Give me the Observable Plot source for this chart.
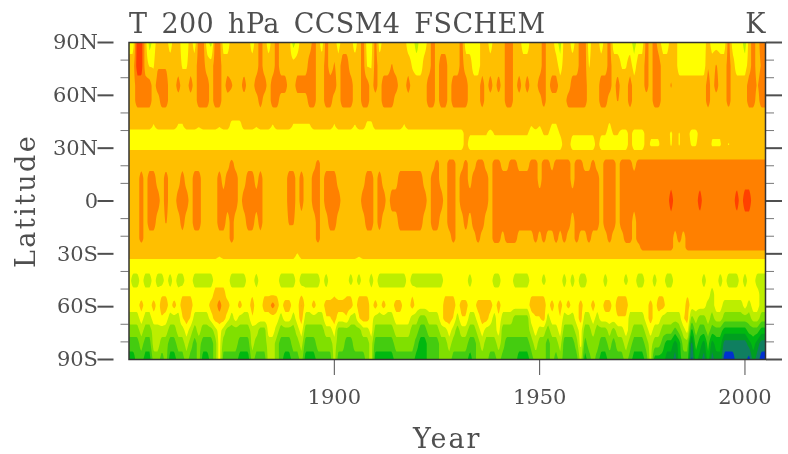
<!DOCTYPE html>
<html><head><meta charset="utf-8">
<script src="https://cdn.jsdelivr.net/npm/d3@7"></script>
<script src="https://cdn.jsdelivr.net/npm/@observablehq/plot@0.6"></script>
<style>html,body{margin:0;padding:0;background:#fff}svg{display:block;filter:blur(.55px)}</style>
</head><body><div id="chart"></div>
<script>
const title = "T 200 hPa CCSM4 FSCHEM";
const units = "K";
const yearTicks = [1900, 1950, 2000];
const latMajor = [90, 60, 30, 0, -30, -60, -90];
const latLabels = ["90S", "60S", "30S", "0", "30N", "60N", "90N"];
const latMinor = [80, 70, 50, 40, 20, 10, -10, -20, -40, -50, -70, -80];
const palette = ["#0030d0","#0f7f60","#009f20","#00b810","#44cc10","#80e000","#bcee00","#ffff00","#ffbf00","#ff8000","#ff4000"];
const levels = [-0.5,0.5,1.5,2.5,3.5,4.5,5.5,6.5,7.5,8.5,9.5];
// Field, per latitude: pairs of (first year, colour level) holding until the next pair
const t90N=[1850,7,1852,10,1854,8,1855,6,1856,7,1857,8,1860,7,1861,8,1863,7,1865,8,1866,7,1867,9,1869,7,1870,6,1871,9,1873,7,1875,8,1880,7,1881,8,1882,9,1883,8,1884,7,1885,8,1886,9,1887,8,1890,6,1891,7,1892,8,1895,9,1896,8,1897,7,1898,9,1899,8,1901,7,1902,8,1905,7,1906,8,1907,9,1908,7,1910,9,1911,7,1912,8,1918,7,1920,6,1921,7,1923,8,1924,9,1925,8,1931,9,1932,7,1936,8,1938,7,1939,8,1942,9,1944,8,1946,7,1948,8,1951,9,1952,8,1954,7,1955,6,1956,8,1958,7,1959,8,1960,9,1962,7,1963,8,1965,7,1966,8,1967,9,1968,7,1973,6,1974,7,1976,9,1977,8,1978,9,1979,8,1980,7,1982,8,1984,7,1991,8,1992,7,1996,9,1997,7,2000,6,2001,8,2002,9,2003,8,2004,9];
const t77N=[1850,8,1852,10,1854,8,1855,7.4,1857,8.4,1860,8,1863,7.4,1865,8,1867,9,1869,8,1871,9,1873,8,1882,9,1883,8,1886,9,1887,8,1894,9,1896,8,1898,9,1899,8,1900,8.6,1901,8,1902,9,1904,8,1907,9,1908,7.4,1910,9,1911,8,1914,8.6,1915,8,1919,7.4,1920,7,1922,8,1924,9,1925,8,1926,9,1928,8,1931,9,1932,8,1934,7,1936,8,1942,9,1944,8,1951,9,1952,8,1955,7,1956,8,1960,9,1962,7.4,1963,8,1967,9,1968,8,1970,7.4,1972,8,1973,7,1974,8,1976,9,1977,8,1978,9,1980,8,1984,7,1991,8.4,1992,8,1993,8.6,1994,8,1996,9,1997,8,1998,7,2001,8,2002,9,2003,8,2004,8.6];
const t66N=[1850,8,1852,9,1856,8,1857,9,1860,8,1862,9,1863,8,1865,9,1866,8,1867,9,1870,8,1871,9,1873,8,1874,9,1875,8.6,1876,8,1878,9,1879,8,1881,9,1884,8,1885,9,1889,8,1891,9,1896,8,1898,9,1901,8,1902,9,1905,8,1907,9,1909,8,1910,9,1911,8,1912,9,1916,8,1918,9,1919,8,1923,9,1925,8,1926,9,1928,8,1929,9,1933,8,1936,9,1937,8,1938,9,1939,8,1940,9,1941,8,1942,9,1944,8,1945,9,1946,8,1947,9,1948,8,1950,9,1952,8,1953,9,1955,8,1958,9,1962,8,1965,9,1968,8,1969,9,1970,8,1972,9,1973,8,1976,9,1977,8,1978,9,1980,8,1982,8.6,1983,8,1991,9,1992,8,1993,9,1994,8,1996,9,1997,8,2001,9,2003,8.4,2004,9];
const t57N=[1850,8,1852,9,1856,8,1858,9,1860,8,1867,9,1870,8,1871,9,1873,8,1882,9,1883,8,1885,9,1887,8,1894,9,1896,8,1898,9,1900,8,1902,9,1905,8,1907,9,1909,8,1912,9,1915,8,1923,9,1925,8,1926,9,1928,8,1929,9,1933,8,1936,9,1937,8,1942,9,1944,8,1951,9,1952,8,1957,9,1962,8,1965,9,1967,8,1969,8.6,1970,8,1972,9,1973,8,1978,9,1980,8,1991,9,1992,8,1996,9,1997,8,2001,9,2003,8,2004,9];
const t49N=[1850,8];
const t43N=[1850,8,1856,7.4,1857,8,1862,7.4,1864,8,1867,7.6,1868,8,1872,7.6,1873,8,1875,7.1,1878,8,1881,7.6,1882,8,1885,7.4,1886,8,1890,7.4,1895,8,1900,7.4,1901,8,1905,7.4,1906,8,1908,7.2,1910,8,1917,7.4,1918,8,1948,7.5,1949,8,1950,7.5,1951,8,1953,7.4,1955,8,1967,7.3,1968,8];
const t38N=[1850,7,1932,8,1933,7.6,1938,7,1939,7.6,1948,7,1951,7.6,1953,7,1955,7.6,1956,8,1958,7.6,1964,8,1965,7.6,1967,7,1968,7.6,1970,7,1972,8,1973,7,1976,8,1977,7.6,1980,8,1982,7.3,1983,8,1984,7.4,1985,8,1987,7,1989,8,1992,7.6,1995,8,1996,7.7,1997,8];
const t32N=[1850,7,1932,8,1933,7,1956,8,1958,7,1964,8,1965,7,1972,8,1973,7,1976,8,1977,7.4,1980,8,1982,7.4,1983,8,1984,7.4,1985,8,1987,7.4,1989,8,1992,7.4,1995,8,1996,7.4,1997,8];
const t26N=[1850,8];
const t21N=[1850,8,1875,9,1876,8,1896,9,1897,8,1925,9,1926,8,1928,9,1930,8,1932,9,1933,8,1935,9,1937,8,1939,9,1941,8,1943,9,1945,8,1948,9,1950,8,1951,9,1953,8,1954,9,1958,8,1959,9,1961,8,1963,9,1964,8,1966,9,1969,8,1970,9,1973,8,1974,9];
const t13N=[1850,8,1853,9,1854,8,1855,9,1857,8,1859,9,1860,8,1863,9,1864,8,1866,9,1868,8,1872,9,1873,8,1874,9,1877,8,1879,9,1881,8,1882,9,1883,8,1889,9,1891,8,1892,9,1893,8,1895,9,1897,8,1898,9,1901,8,1908,9,1910,8,1911,9,1912,8,1916,9,1922,8,1924,9,1926,8,1928,9,1930,8,1931,9,1933,8,1934,9,1938,8,1939,9,1950,8,1951,9,1958,8,1959,9,1965,8,1966,9,1969,8,1970,9];
const t00=[1850,8,1853,9,1854,8,1855,9,1858,8,1859,9,1860,8,1862,9,1865,8,1866,9,1868,8,1872,9,1877,8,1878,9,1883,8,1889,9,1891,8,1892,9,1893,8,1895,9,1897,8,1898,9,1902,8,1907,9,1910,8,1911,9,1913,8,1914,9,1923,8,1924,9,1927,8,1928,9,1930,8,1931,9,1938,8,1939,9,1965,8,1966,9,1969,8,1970,9,1982,10,1983,9,1989,10,1990,9,1998,10,1999,9,2000,10,2002,9];
const t12S=[1850,8,1853,9,1854,8,1855,9,1857,8,1859,8.6,1860,8,1863,9,1864,8,1866,9,1868,8,1872,9,1874,8,1875,9,1876,8,1879,9,1881,8,1882,9,1883,8,1889,8.6,1891,8,1896,9,1897,8,1899,9,1901,8,1908,9,1910,8,1911,9,1912,8,1916,9,1922,8,1924,9,1926,8,1928,9,1930,8,1932,9,1933,8,1934,9,1937,8,1939,9,1958,8,1959,9,1965,8,1966,9,1969,8,1970,9,1973,8,1974,9];
const t21S=[1850,8,1853,9,1854,8,1875,9,1876,8,1896,9,1897,8,1929,9,1930,8,1935,9,1936,8,1939,9,1941,8,1942,9,1945,8,1949,9,1950,8,1951,9,1952,8,1954,9,1955,8,1956,9,1957,8,1959,9,1960,8,1962,9,1963,8,1967,9,1968,8,1971,9,1973,8,1974,9,1983,8,1984,9,1985,8,1986,9];
const t26S=[1850,8,1975,9,1983,8,1986,9];
const t30S=[1850,7.8,1872,7.6,1873,7.8,1891,7.4,1892,7.8,1906,7.6,1907,7.8];
const t37S=[1850,7];
const t45S=[1850,7,1851,6,1853,7,1854,6,1856,7,1857,6,1859,7,1860,6,1861,7,1862,6,1864,7,1866,6,1871,7,1875,6,1879,7,1881,6,1882,7,1887,6,1891,7,1892,6,1897,7,1898,6,1899,7,1904,6,1905,7,1906,6,1907,7,1909,6,1910,7,1911,6,1918,7,1919,6,1927,7,1933,6,1934,7,1939,6,1941,7,1944,6,1948,7,1951,6,1952,7,1956,6,1957,7,1958,6,1959,7,1960,6,1962,7,1966,6,1967,7,1971,6,1972,7,1974,6,1976,7,1978,6,1979,7,1981,6,1983,7,1990,6,1991,7,1994,6,1995,7,1996,6,1999,7,2000,6,2001,7,2003,6];
const t53S=[1850,7,1858,7.4,1860,7,1863,7.4,1866,7,1871,8,1874,7,1880,7.4,1881,7,1883,7.4,1887,7,1892,7.4,1893,7,1900,7.4,1901,7,1903,7.4,1905,7,1906,7.4,1909,7,1919,7.4,1920,7,1927,7.4,1930,7,1948,7.4,1952,7,1969,7.4,1972,7,1979,7.4,1981,7,1986,7.4,1987,7,1992,6,1993,7,2004,6];
const t59S=[1850,7,1853,8,1854,7,1856,8,1857,7,1858,8,1860,7,1861,8,1862,7,1863,8,1866,7,1870,8,1872,9,1873,8,1875,7,1877,8,1878,7,1880,8,1881,7,1883,8,1885,9,1886,8,1887,7,1888,8,1890,7,1892,8.6,1893,7,1895,8,1896,7,1898,8,1905,7,1906,8,1909,7,1910,8,1911,7,1912,8,1913,7,1915,8,1917,7,1919,8,1920,7,1927,8,1930,7,1931,8,1933,7,1935,8,1939,7,1940,8,1941,7,1948,8,1952,7,1953,8,1954,7,1955,8,1956,7,1957,8,1958,7,1960,8,1961,7,1963,8,1964,7,1966,8,1968,7,1969,8,1972,7,1977,8,1978,7,1979,8,1981,7,1986,8,1987,7,1991,6,1993,7,1995,6,2000,7,2001,6,2002,7,2004,6];
// Southern rows change almost every year, so they hold one value per year, 1850-2005
const t67S=[6,6,6,7,6,6,7,7,7.4,7, 6,6,6,7.4,8,7.4,6,6,6,6, 7,8,8,8,7,6,7,6,6,6, 7.4,7,7,7,7,7,7,6,7,7, 6,7,8,6,6,6,6,6,7.4,7.4, 8,7,7,7.4,6,6,7.4,8,8,7, 6,6,6,6,6,7,7,7,7,6, 6,5,5,6,6,6,7,8,8,7.4, 6,7.4,7.4,6,6,7,8,8,7,6, 7.4,6,6,6,5,5,5,5,7,7.4, 7.4,8,6,7,7,7.4,6,6,6,7, 8,6,6,7,6,7,7,7,7,7.4, 7.4,7.4,6,6,6,6,7,8,7,7, 6,6,6,6,6,7.4,8,5,6,5, 5,6,5,6,6,5,5,5,5,5, 5,5,6,6,5,5];
const t73S=[5,5,5,6,5,5,6,6,6,6, 5,5,6,6,7,6,5,6,5,5, 5,6,7,6,5,5,5,5,5,5, 6,6,5,5,7,7,6,5,5,5, 5,6,7,5,5,5,5,5,6,6, 7,5,5,5,5,5,5,6,6,7, 5,5,5,5,5,6,6,6,6,5, 5,4,4,5,5,5,6,6,7,6, 5,6,6,5,5,6,7,6,6,6, 7,5,5,5,5,5,5,5,6,7, 6,6,5,6,6,7,5,5,5,6, 7,5,5,6,5,5,5,6,5,6, 6,7,6,5,5,5,6,7,6,6, 5,5,5,4,5,6,7,3,5,4, 4,5,4,4,4,3,3,3,3,3, 3,4,4,4,3,3];
const t81S=[4,4,4,5,4,4,6,6,5,5, 4,4,5,5,6,5,4,5,4,4, 4,5,7,5,5,5,5,4,4,4, 6,5,5,5,6,6,5,4,4,4, 5,5,6,4,4,4,5,5,5,5, 6,5,5,4,4,5,5,5,5,6, 4,4,4,4,4,5,5,5,5,5, 4,3,3,4,4,4,5,5,6,5, 5,5,5,4,4,5,6,5,5,5, 6,5,4,4,4,4,4,4,5,6, 5,5,4,5,5,6,4,4,4,5, 7,4,5,5,5,4,4,5,4,5, 5,6,5,4,4,4,5,6,5,5, 4,3,3,2,3,5,5,1,4,3, 2,4,2,3,3,1,1,1,1,1, 1,2,3,2,1,1];
const t90S=[3,3,4,4,3,3,5,5,4,5, 3,3,4,4,5,4,4,5,3,3, 4,5,7,4,4,4,4,3,3,3, 5,4,4,4,6,6,5,4,3,3, 4,4,5,3,3,3,4,4,4,4, 6,4,4,4,4,4,4,4,5,6, 3,3,3,3,3,4,4,4,4,4, 3,3,3,4,4,4,5,5,5,4, 4,4,4,3,4,5,5,5,4,4, 5,4,4,4,4,3,3,3,4,5, 5,5,4,5,4,5,4,4,4,4, 6,3,4,5,4,3,3,4,4,4, 4,5,4,3,3,3,4,6,3,3, 3,2,2,1,3,4,4,0,3,2, 1,3,1,2,2,0,0,0,1,1, 1,0,2,1,0,0];
const lats = [90,76.9,65.6,57.1,49.1,42.9,38.3,32.1,25.8,21.3,12.8,0.3,-12.2,-21.3,-26.4,-30.4,-37.2,-45.2,-53.1,-59.3,-66.7,-73.5,-80.9,-90];
const runs = [t90N,t77N,t66N,t57N,t49N,t43N,t38N,t32N,t26N,t21N,t13N,t00,t12S,t21S,t26S,t30S,t37S,t45S,t53S,t59S,t67S,t73S,t81S,t90S];

// One value per year for each latitude, then a lookup for the contour sampler
const years = d3.range(1850, 2006);
const rows = runs.map(r => {
  if (r[0] !== 1850) return r;
  const out = []; let p = 0, cur = r[1];
  for (const y of years) { while (p < r.length && r[p] <= y) { cur = r[p + 1]; p += 2; } out.push(cur); }
  return out;
});
const latsUp = lats.slice().reverse();
function sample(x, y) {
  const i = Math.min(years.length - 2, Math.max(0, d3.bisectRight(years, x) - 1));
  const k = Math.min(latsUp.length - 2, Math.max(0, d3.bisectRight(latsUp, y) - 1));
  const u = (x - years[i]) / (years[i + 1] - years[i]);
  const v = (y - latsUp[k]) / (latsUp[k + 1] - latsUp[k]);
  const lo = rows[lats.length - 1 - k], hi = rows[lats.length - 2 - k];
  return (lo[i] * (1 - u) + lo[i + 1] * u) * (1 - v) + (hi[i] * (1 - u) + hi[i + 1] * u) * v;
}

const ink = "#4f4f4f";
const serif = "DejaVu Serif";
const fmtLat = d => latLabels[latMajor.slice().reverse().indexOf(d)];
const noLabel = () => "";

const plot = Plot.plot({
  width: 788, height: 454,
  marginLeft: 128.5, marginRight: 23, marginTop: 42, marginBottom: 95,
  style: {fontFamily: serif, background: "#fff", color: ink},
  x: {domain: [1850, 2005], axis: null},
  y: {domain: [-90, 90], axis: null},
  color: {type: "threshold", domain: levels.slice(1), range: palette},
  marks: [
    Plot.contour({fill: sample, x1: 1850, x2: 2005, y1: -90, y2: 90, thresholds: levels, pixelSize: 1, stroke: "none"}),
    Plot.axisY(latMinor, {anchor: "left", tickSize: 8, tickFormat: noLabel, label: null, stroke: "#777", strokeWidth: 1}),
    Plot.axisY(latMinor, {anchor: "right", tickSize: 8, tickFormat: noLabel, label: null, stroke: "#777", strokeWidth: 1}),
    Plot.axisY(latMajor, {anchor: "left", tickSize: 16, tickPadding: 0, tickFormat: fmtLat, label: null, stroke: ink, strokeWidth: 2, fontSize: 21, fill: ink, dx: -15}),
    Plot.axisY(latMajor, {anchor: "right", tickSize: 16, tickFormat: noLabel, label: null, stroke: ink, strokeWidth: 2}),
    Plot.axisX(yearTicks, {anchor: "bottom", tickSize: 16, tickPadding: 14, tickFormat: d => String(d), label: null, stroke: ink, strokeWidth: 1, fontSize: 21, fill: ink}),
    Plot.frame({stroke: "#333", strokeWidth: 1.5}),
    Plot.text([title], {frameAnchor: "top-left", dy: -29, text: d => d, fontSize: 27, fill: ink, textAnchor: "start", lineAnchor: "top"}),
    Plot.text([units], {frameAnchor: "top-right", dy: -29, text: d => d, fontSize: 27, fill: ink, textAnchor: "end", lineAnchor: "top"}),
    Plot.text(["Year"], {frameAnchor: "bottom", dy: 88, text: d => d, fontSize: 27, fill: ink, lineAnchor: "bottom"}),
    Plot.text(["Latitude"], {frameAnchor: "left", dx: -103, rotate: -90, textAnchor: "middle", text: d => d, fontSize: 27, fill: ink})
  ]
});
document.getElementById("chart").append(plot);
const spacing = {[title]: ["0.4px", "5px"], Year: ["2px", "0"], Latitude: ["2.4px", "0"]};
d3.select(plot).selectAll("text").each(function () {
  const s = spacing[this.textContent];
  if (s) d3.select(this).style("letter-spacing", s[0]).style("word-spacing", s[1]);
});
</script></body></html>
